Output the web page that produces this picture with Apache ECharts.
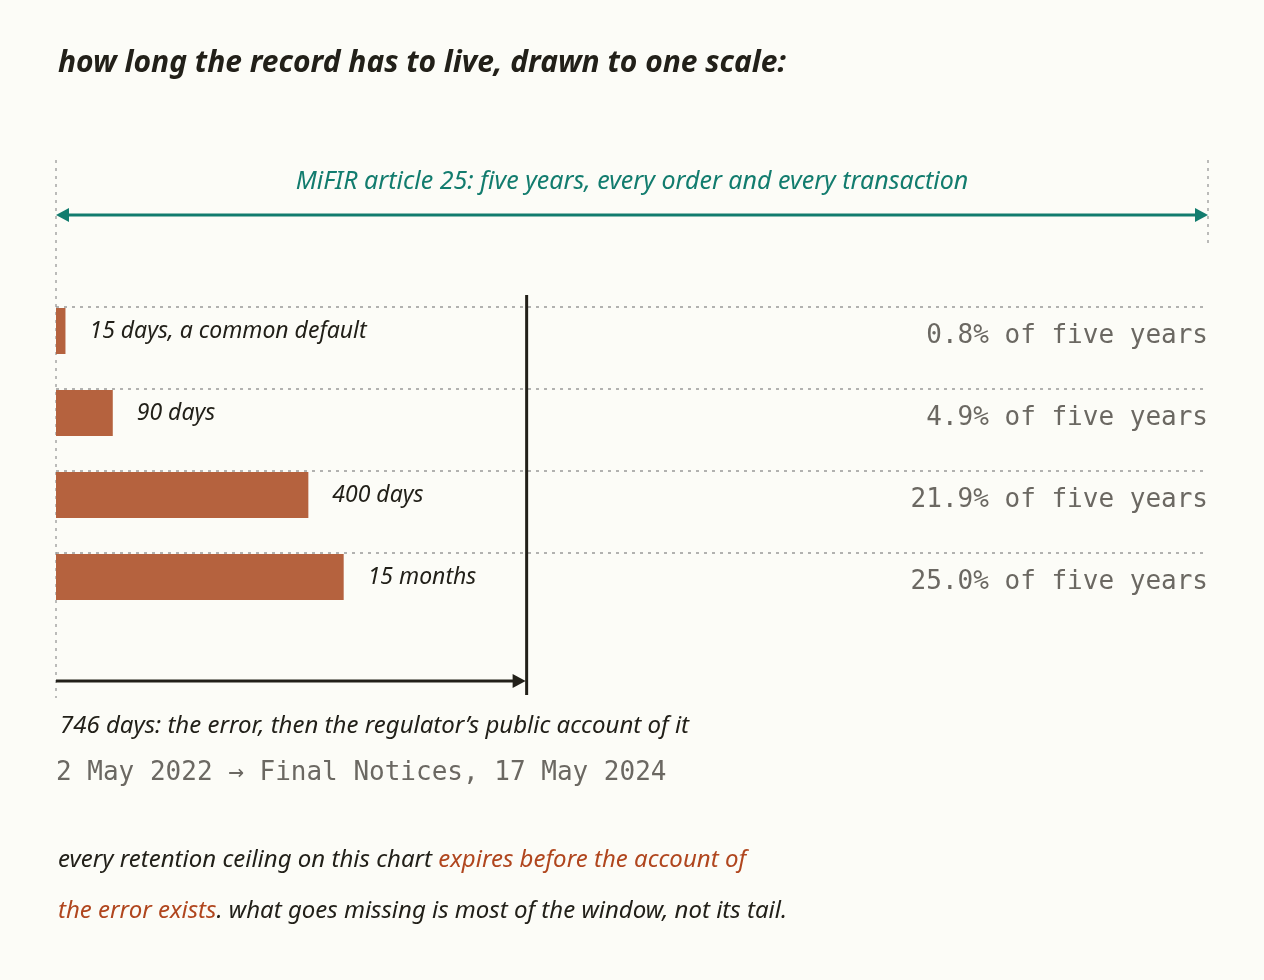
<!DOCTYPE html>
<html>
<head>
<meta charset="UTF-8"/>
<script src="https://cdn.jsdelivr.net/npm/echarts@6/dist/echarts.min.js"></script>
<style>html,body{margin:0;background:#fcfcf7;}</style>
</head>
<body>
<div id="chart" style="width:1264px;height:980px;"></div>
<script>
    // days, drawn against a five year window
    var windowDays = 1826;
    var errorDays = 746;
    var labels = ['15 days, a common default', '90 days', '400 days', '15 months'];
    var days = [15, 90, 400, 456];
    var shares = ['0.8% of five years', '4.9% of five years', '21.9% of five years', '25.0% of five years'];

    var hand = '"Noto Sans", sans-serif';
    var mono = '"DejaVu Sans Mono", monospace';
    var ink = '#222019';
    var teal = '#127c6e';
    var rust = '#b5623e';

    const chart = echarts.init(document.getElementById('chart'));
    chart.setOption({
        backgroundColor: '#fcfcf7',
        animation: false,
        grid: {left: 56, right: 56, top: 290, height: 328},
        xAxis: {type: 'value', min: 0, max: windowDays, show: false},
        yAxis: {type: 'category', data: labels, inverse: true, show: false},
        series: [{
            type: 'bar',
            data: days,
            barWidth: 46,
            itemStyle: {color: rust},
            label: {
                show: true, position: 'right', distance: 24,
                formatter: function(p) { return labels[p.dataIndex]; },
                fontFamily: hand, fontStyle: 'italic', fontSize: 23, color: ink
            }
        }]
    });

    // annotations placed through the chart's own scale
    var px = function(d) { return chart.convertToPixel({xAxisIndex: 0}, d); };
    var py = function(i) { return chart.convertToPixel({yAxisIndex: 0}, i); };
    var x0 = px(0), x5 = px(windowDays), xe = px(errorDays);
    var dot = {stroke: '#999', lineWidth: 1.3, lineDash: [3, 5]};
    var g = [];

    g.push({type: 'text', left: 58, top: 48, style: {text: 'how long the record has to live, drawn to one scale:',
        font: 'italic bold 30px ' + hand, fill: ink}});

    g.push({type: 'line', shape: {x1: x0, y1: 160, x2: x0, y2: 698}, style: dot});
    g.push({type: 'line', shape: {x1: x5, y1: 160, x2: x5, y2: 248}, style: dot});
    g.push({type: 'line', shape: {x1: x0 + 8, y1: 215, x2: x5 - 8, y2: 215}, style: {stroke: teal, lineWidth: 3}});
    g.push({type: 'polygon', shape: {points: [[x0, 215], [x0 + 13, 208], [x0 + 13, 222]]}, style: {fill: teal}});
    g.push({type: 'polygon', shape: {points: [[x5, 215], [x5 - 13, 208], [x5 - 13, 222]]}, style: {fill: teal}});
    g.push({type: 'text', x: (x0 + x5) / 2, y: 182, style: {text: 'MiFIR article 25: five years, every order and every transaction',
        font: 'italic 25px ' + hand, fill: teal, align: 'center', verticalAlign: 'middle'}});

    for (var i = 0; i < labels.length; i++) {
        var yc = py(i);
        g.push({type: 'line', shape: {x1: x0, y1: yc - 24, x2: x5, y2: yc - 24}, style: dot});
        g.push({type: 'text', x: x5, y: yc + 5, style: {text: shares[i], font: '26px ' + mono,
            fill: '#6b6862', align: 'right', verticalAlign: 'middle'}});
    }

    g.push({type: 'line', shape: {x1: xe, y1: 295, x2: xe, y2: 695}, style: {stroke: ink, lineWidth: 3}});
    g.push({type: 'line', shape: {x1: x0, y1: 681, x2: xe - 12, y2: 681}, style: {stroke: ink, lineWidth: 3}});
    g.push({type: 'polygon', shape: {points: [[xe - 1, 681], [xe - 14, 674], [xe - 14, 688]]}, style: {fill: ink}});
    g.push({type: 'text', left: 60, top: 714, style: {text: '746 days: the error, then the regulator\u2019s public account of it',
        font: 'italic 24px ' + hand, fill: ink}});
    g.push({type: 'text', left: 56, top: 760, style: {text: '2 May 2022 \u2192 Final Notices, 17 May 2024',
        font: '26px ' + mono, fill: '#6b6862'}});

    g.push({type: 'text', left: 58, top: 848, style: {
        text: '{a|every retention ceiling on this chart }{b|expires before the account of}',
        rich: {a: {font: 'italic 24px ' + hand, fill: ink}, b: {font: 'italic 24px ' + hand, fill: '#b0461e'}}}});
    g.push({type: 'text', left: 58, top: 899, style: {
        text: '{b|the error exists}{a|. what goes missing is most of the window, not its tail.}',
        rich: {a: {font: 'italic 24px ' + hand, fill: ink}, b: {font: 'italic 24px ' + hand, fill: '#b0461e'}}}});

    chart.setOption({graphic: g});
</script>
</body>
</html>
